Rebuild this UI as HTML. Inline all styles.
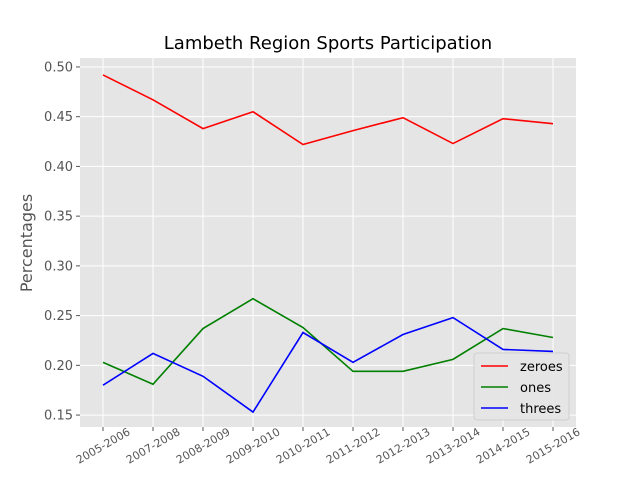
<!DOCTYPE html>
<html><head><meta charset="utf-8"><style>
body{margin:0;background:#fff;font-family:"Liberation Sans","DejaVu Sans",sans-serif}
</style></head><body>
<svg id="chart" width="640" height="480" xmlns="http://www.w3.org/2000/svg" font-family="DejaVu Sans, Liberation Sans, sans-serif">
<rect width="640" height="480" fill="#fff"/>
<rect x="80" y="58" width="496" height="369" fill="#e5e5e5"/>
<g id="grid"></g><g id="ticks"></g><g id="lines"></g>
<text x="328" y="49" font-size="18" text-anchor="middle" fill="#000">Lambeth Region Sports Participation</text>
<text transform="translate(32,243) rotate(-90)" font-size="16" text-anchor="middle" fill="#555">Percentages</text>
<g>
<rect x="474" y="353" width="95" height="67" rx="3" fill="#e5e5e5" stroke="#ccc" stroke-width="1" opacity="0.9"/>
<g id="legend-items"></g>
</g>
</svg>
<script>
const categories=["2005-2006","2007-2008","2008-2009","2009-2010","2010-2011","2011-2012","2012-2013","2013-2014","2014-2015","2015-2016"];
const zeroes=[0.492,0.467,0.438,0.455,0.422,0.436,0.449,0.423,0.448,0.443];
const ones=[0.203,0.181,0.237,0.267,0.238,0.194,0.194,0.206,0.237,0.228];
const threes=[0.180,0.212,0.189,0.153,0.233,0.203,0.231,0.248,0.216,0.214];
const yTicks=[0.15,0.20,0.25,0.30,0.35,0.40,0.45,0.50];
const seriesNames=["zeroes","ones","threes"];
const seriesColors=["#ff0000","#008000","#0000ff"];
const NS="http://www.w3.org/2000/svg";
const L=80,R=576,T=58,B=427;
const yMin=0.138,yMax=0.509;
function xPos(i){return 103+i*(553-103)/(categories.length-1);}
function yPos(v){return B-(v-yMin)/(yMax-yMin)*(B-T);}
function mk(tag,attrs,parent){const e=document.createElementNS(NS,tag);for(const k in attrs)e.setAttribute(k,attrs[k]);parent.appendChild(e);return e;}
const grid=document.getElementById('grid'),ticks=document.getElementById('ticks'),lines=document.getElementById('lines');
yTicks.forEach(v=>{const y=yPos(v);
 const g=mk('line',{x1:L,x2:R,y1:y,y2:y,stroke:'#fff','stroke-width':1},grid);
 
 
 mk('line',{x1:L-4,x2:L,y1:y,y2:y,stroke:'#555'},ticks);
 const t=mk('text',{x:L-7,y:y+4.5,'font-size':13,'text-anchor':'end',fill:'#555'},ticks);
 t.textContent=v.toFixed(2);
 
 
});
categories.forEach((c,i)=>{const x=xPos(i);
 const g=mk('line',{x1:x,x2:x,y1:T,y2:B,stroke:'#fff'},grid);
 
 
 mk('line',{x1:x,x2:x,y1:B,y2:B+4,stroke:'#555'},ticks);
 const t=mk('text',{x:0,y:0,'font-size':11,'text-anchor':'middle',fill:'#555',transform:`translate(${x+2},${B+22}) rotate(-30)`},ticks);
 t.textContent=c;
 
 
});
[zeroes,ones,threes].forEach((s,k)=>{
 const p=mk('polyline',{points:s.map((v,i)=>xPos(i)+','+yPos(v)).join(' '),fill:'none',stroke:seriesColors[k],'stroke-width':1.6},lines);
 
 
});
const li=document.getElementById('legend-items');
seriesNames.forEach((n,k)=>{const y=366+k*21;
 const g=mk('g',{},li);
 
 
 mk('line',{x1:481,x2:508,y1:y,y2:y,stroke:seriesColors[k],'stroke-width':1.6},g);
 const t=mk('text',{x:520,y:y+5,'font-size':13,fill:'#000'},g);t.textContent=n;
});
</script>
</body></html>
